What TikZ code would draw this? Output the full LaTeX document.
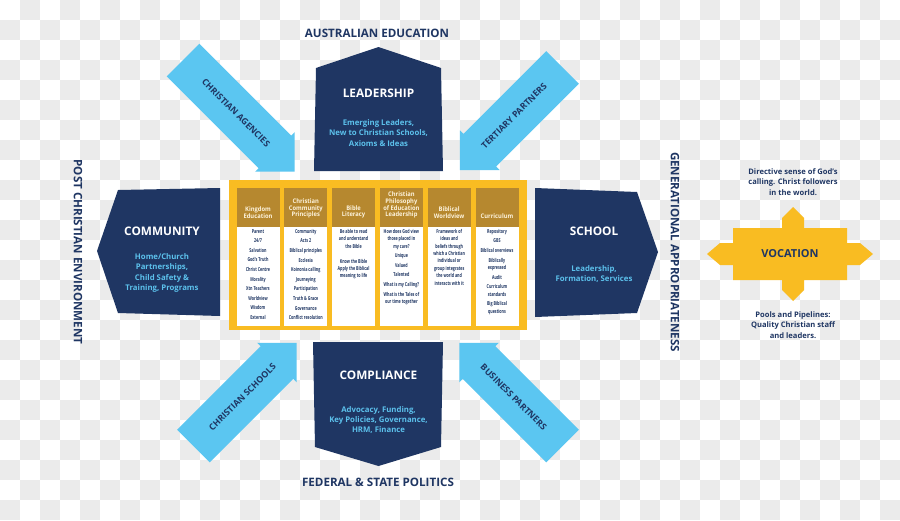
\documentclass[tikz,border=0pt]{standalone}
\usepackage{fontspec}
\setmainfont{Open Sans}
\newfontfamily\headfont[FakeStretch=0.92]{Open Sans}
\newfontfamily\narrowfont[FakeStretch=0.68]{Open Sans}
\usepackage{xcolor}
\usetikzlibrary{positioning}

\definecolor{navy}{HTML}{1F3663}
\definecolor{skyblue}{HTML}{5BC6F1}
\definecolor{subblue}{HTML}{5CC1EC}
\definecolor{gold}{HTML}{F9BC22}
\definecolor{mustard}{HTML}{B6882F}
\definecolor{cream}{HTML}{FDF3DC}
\definecolor{checker}{HTML}{EBEBEB}

\newcommand{\lgap}{\\[2.2pt]}

\begin{document}
\begin{tikzpicture}[x=1pt, y=-1pt,
  outer/.style={font=\bfseries\fontsize{11.6}{13}\selectfont, text=navy},
  blocktitle/.style={font=\bfseries\fontsize{11.8}{13}\selectfont, text=white},
  blocktext/.style={font=\bfseries\fontsize{7.8}{10.3}\selectfont, text=subblue, align=center},
  arrowlabel/.style={font=\bfseries\fontsize{8.8}{10}\selectfont, text=navy},
  colhead/.style={font=\headfont\bfseries\fontsize{6.3}{6.6}\selectfont, text=cream, align=center, anchor=south, inner sep=0pt},
  colbody/.style={font=\narrowfont\bfseries\fontsize{5.4}{7.4}\selectfont, text=navy, align=center, anchor=north, inner sep=0pt},
  note/.style={font=\bfseries\fontsize{7.6}{10.5}\selectfont, text=navy, align=center}]

  \useasboundingbox (0,0) rectangle (900,520);
  \fill[white] (0,0) rectangle (900,520);
  % transparency checker
  \foreach \x in {0,40,...,880}
    \foreach \y in {0,40,...,480} {
      \fill[checker] (\x+20,\y) rectangle ++(20,20);
      \fill[checker] (\x,\y+20) rectangle ++(20,20);
    }

  % outer labels
  \node[outer] (aus) at (377,33) {AUSTRALIAN EDUCATION};
  \node[outer] (fed) at (378,482) {FEDERAL \& STATE POLITICS};
  \node[outer, rotate=-90] (post) at (78,252) {POST CHRISTIAN ENVIRONMENT};
  \node[outer, rotate=-90] (gen) at (675,252) {GENERATIONAL APPROPRIATENESS};

  % partner arrows
  \foreach \px/\py/\ang/\len/\lab/\rot/\nm in {183/60/-45/158/CHRISTIAN AGENCIES/-45/agencies,
      562.5/67.5/-135/145/TERTIARY PARTNERS/45/tertiary,
      193.5/446/45/146/CHRISTIAN SCHOOLS/45/schools,
      562.5/446/135/146/BUSINESS PARTNERS/-45/business} {
    \begin{scope}[shift={(\px,\py)}, rotate=\ang]
      \fill[skyblue] (0,-23) -- ({\len-28},-23) -- ({\len-28},-28) -- (\len,0)
        -- ({\len-28},28) -- ({\len-28},23) -- (0,23) -- cycle;
      \node[arrowlabel, rotate=\rot] (\nm) at ({\len/2-4},0) {\lab};
    \end{scope}
  }

  % leadership
  \fill[navy] (316,68) -- (378.5,47) -- (441,68) -- (443,171) -- (314,171) -- cycle;
  \node[blocktitle] (lead) at (378.5,93) {LEADERSHIP};
  \node[blocktext] (leadsub) at (378.5,133) {Emerging Leaders,\\New to Christian Schools,\\Axioms \& Ideas};

  % compliance
  \fill[navy] (313,342) -- (443,342) -- (441,447) -- (378.5,466) -- (315,447) -- cycle;
  \node[blocktitle] (comp) at (378.5,375) {COMPLIANCE};
  \node[blocktext] (compsub) at (378.5,420) {Advocacy, Funding,\\Key Policies, Governance,\\HRM, Finance};

  % community
  \fill[navy] (118,190) -- (220,188) -- (220,316) -- (118,313) -- (97,251) -- cycle;
  \node[blocktitle] (comm) at (162,231) {COMMUNITY};
  \node[blocktext] (commsub) at (162,273) {Home/Church\\Partnerships,\\Child Safety \&\\Training, Programs};

  % school
  \fill[navy] (535,188) -- (637,192) -- (658,252) -- (637,313) -- (535,317) -- cycle;
  \node[blocktitle] (school) at (594,231) {SCHOOL};
  \node[blocktext] (schoolsub) at (594,274) {Leadership,\\Formation, Services};

  % central table
  \fill[gold] (229,180) rectangle (527,330);
  \foreach \i/\hd/\bd [evaluate=\i as \lx using 236.5+47.8*(\i-1)] in {
      1/{Kingdom\\Education}/{Parent\lgap 24{/}7\lgap Salvation\lgap God's Truth\lgap Christ Centre\lgap Morality\lgap Xtn Teachers\lgap Worldview\lgap Wisdom\lgap External},
      2/{Christian\\Community\\Principles}/{Community\lgap Acts 2\lgap Biblical principles\lgap Ecclesia\lgap Koinonia calling\lgap Journeying\lgap Participation\lgap Truth \& Grace\lgap Governance\lgap Conflict resolution},
      3/{Bible\\Literacy}/{Be able to read\\and understand\\the Bible\\[7.6pt]Know the Bible\\Apply the Biblical\\meaning to life},
      4/{Christian\\Philosophy\\of Education\\Leadership}/{How does God view\\those placed in\\my care?\lgap Unique\lgap Valued\lgap Talented\lgap What is my Calling?\lgap What is the Tales of\\our time together},
      5/{Biblical\\Worldview}/{Framework of\\ideas and\\beliefs through\\which a Christian\\individual or\\group integrates\\the world and\\interacts with it},
      6/{Curriculum}/{Repository\lgap GBS\lgap Biblical overviews\lgap Biblically\\expressed\lgap Audit\lgap Curriculum\\standards\lgap Big Biblical\\questions}} {
    \fill[mustard] (\lx,188) rectangle ++(43,38.5);
    \fill[white] (\lx,226.5) rectangle ++(43,99.5);
    \node[colhead] (head\i) at (\lx+21.5,218.5) {\hd};
    \node[colbody] (body\i) at (\lx+21.5,229) {\bd};
  }

  % vocation
  \fill[gold] (733,228) -- (782,228) -- (782,218) -- (793,207) -- (804,218) -- (804,228)
    -- (847,228) -- (847,243) -- (860,243) -- (873,254) -- (860,265) -- (847,265)
    -- (847,280) -- (804,280) -- (804,290) -- (793,301) -- (782,290) -- (782,280)
    -- (733,280) -- (733,265) -- (720,265) -- (707,254) -- (720,243) -- (733,243) -- cycle;
  \node[outer, font=\bfseries\fontsize{11}{13}\selectfont] (voc) at (790,254) {VOCATION};
  \node[note] (vocup) at (793,182) {Directive sense of God's\\calling. Christ followers\\in the world.};
  \node[note] (vocdown) at (793,325) {Pools and Pipelines:\\Quality Christian staff\\and leaders.};
\end{tikzpicture}
\end{document}
